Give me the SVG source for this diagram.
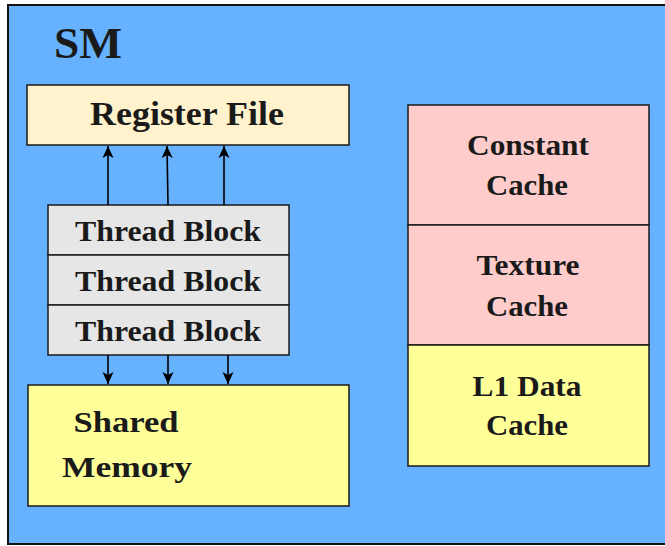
<svg xmlns="http://www.w3.org/2000/svg" width="665" height="546" viewBox="0 0 665 546">
<defs>
<marker id="ah" viewBox="0 0 12 12" refX="12" refY="6" markerWidth="12" markerHeight="12" markerUnits="userSpaceOnUse" orient="auto">
<path d="M0,0.5 L12,6 L0,11.5 L3,6 Z" fill="#000"/>
</marker>
<style>
.box{stroke:#1a1a1a;stroke-width:1.5}
text{font-family:'Liberation Serif','DejaVu Serif',serif;font-weight:700;fill:#1a1a1a;text-anchor:middle;font-size:30px}
.c{fill:none;stroke:#000;stroke-width:1.6;marker-end:url(#ah)}
</style>
</defs>
<rect x="0" y="0" width="665" height="546" fill="#ffffff"/>
<g id="sm">
<rect x="8" y="5" width="662" height="539" fill="#66B2FF" stroke="#111" stroke-width="2"/>
<text x="88" y="58" font-family="Liberation Serif, serif" style="font-size:45px" textLength="68" lengthAdjust="spacingAndGlyphs">SM</text>
</g>
<g id="register-file">
<rect class="box" x="27" y="85" width="322" height="60" fill="#FFF2CC"/>
<text x="187" y="125" font-family="Liberation Serif, serif" style="font-size:33px" textLength="194" lengthAdjust="spacingAndGlyphs">Register File</text>
</g>
<g id="thread-block-1">
<rect class="box" x="48" y="205" width="241" height="50" fill="#E6E6E6"/>
<text x="168" y="241" font-family="Liberation Serif, serif" textLength="186" lengthAdjust="spacingAndGlyphs">Thread Block</text>
</g>
<g id="thread-block-2">
<rect class="box" x="48" y="255" width="241" height="50" fill="#E6E6E6"/>
<text x="168" y="291" font-family="Liberation Serif, serif" textLength="186" lengthAdjust="spacingAndGlyphs">Thread Block</text>
</g>
<g id="thread-block-3">
<rect class="box" x="48" y="305" width="241" height="50" fill="#E6E6E6"/>
<text x="168" y="341" font-family="Liberation Serif, serif" textLength="186" lengthAdjust="spacingAndGlyphs">Thread Block</text>
</g>
<g id="shared-memory">
<rect class="box" x="28" y="385" width="321" height="121" fill="#FFFF99"/>
<text x="126" y="432" font-family="Liberation Serif, serif" textLength="105" lengthAdjust="spacingAndGlyphs">Shared</text>
<text x="127" y="477" font-family="Liberation Serif, serif" textLength="130" lengthAdjust="spacingAndGlyphs">Memory</text>
</g>
<g id="constant-cache">
<rect class="box" x="408" y="105" width="241" height="120" fill="#FFCCCC"/>
<text x="528" y="155" font-family="Liberation Serif, serif" textLength="122" lengthAdjust="spacingAndGlyphs">Constant</text>
<text x="527" y="195" font-family="Liberation Serif, serif" textLength="82" lengthAdjust="spacingAndGlyphs">Cache</text>
</g>
<g id="texture-cache">
<rect class="box" x="408" y="225" width="241" height="120" fill="#FFCCCC"/>
<text x="528" y="275" font-family="Liberation Serif, serif" textLength="103" lengthAdjust="spacingAndGlyphs">Texture</text>
<text x="527" y="316" font-family="Liberation Serif, serif" textLength="82" lengthAdjust="spacingAndGlyphs">Cache</text>
</g>
<g id="l1-data-cache">
<rect class="box" x="408" y="345" width="241" height="121" fill="#FFFF99"/>
<text x="527" y="396" font-family="Liberation Serif, serif" textLength="109" lengthAdjust="spacingAndGlyphs">L1 Data</text>
<text x="527" y="435" font-family="Liberation Serif, serif" textLength="82" lengthAdjust="spacingAndGlyphs">Cache</text>
</g>
<g id="connectors">
<line class="c" x1="108" y1="205" x2="108" y2="146"/>
<line class="c" x1="168" y1="205" x2="167" y2="146"/>
<line class="c" x1="224" y1="205" x2="224" y2="146"/>
<line class="c" x1="108" y1="355" x2="108" y2="384"/>
<line class="c" x1="168" y1="355" x2="168" y2="384"/>
<line class="c" x1="228" y1="355" x2="228" y2="384"/>
</g>
</svg>
